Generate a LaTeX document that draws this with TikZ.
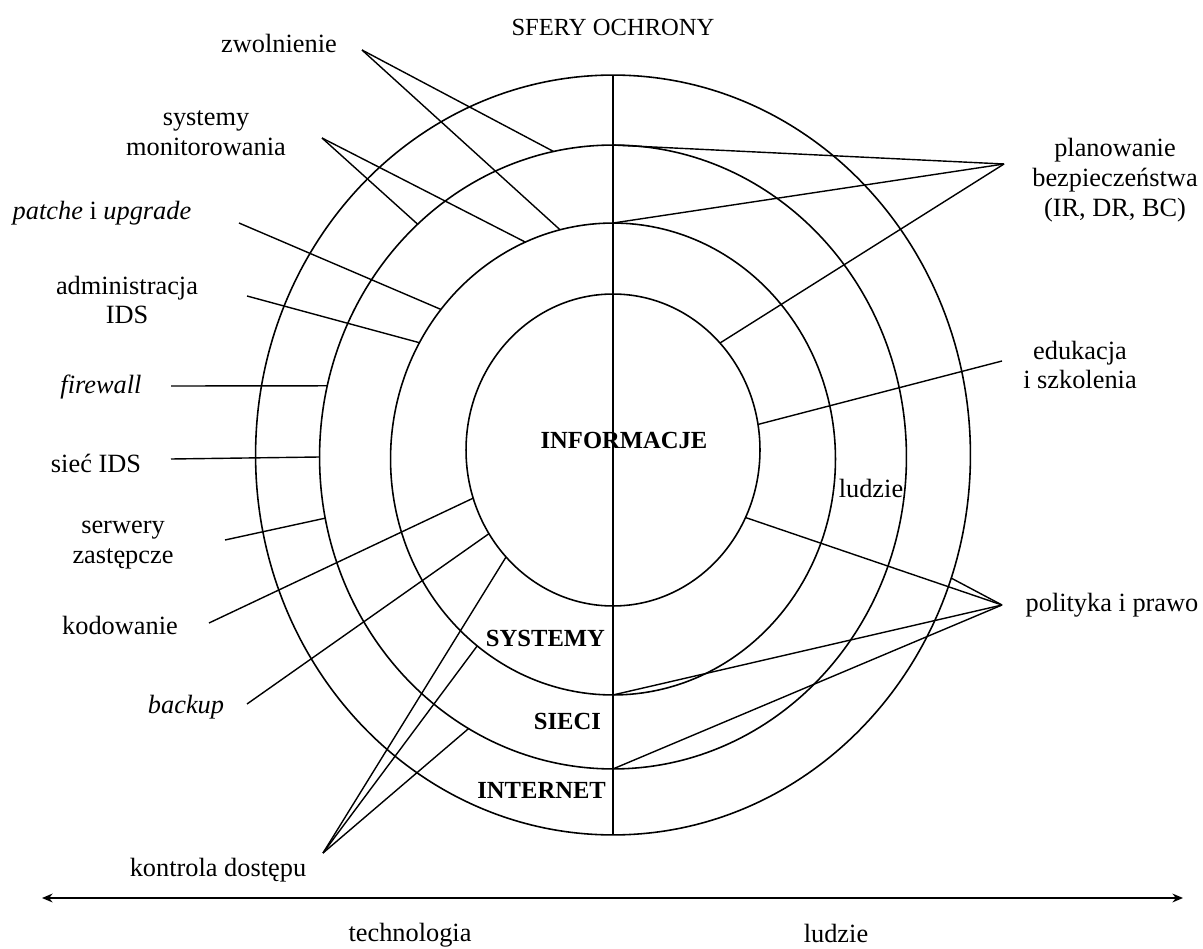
\documentclass[tikz,border=0pt]{standalone}
\usepackage{fontspec}
\setmainfont{Liberation Serif}
\usepackage{tikz}
\usetikzlibrary{shapes.geometric, arrows.meta, positioning}
\tikzset{
  ring/.style={ellipse, draw, line width=0.9pt, inner sep=0pt, outer sep=0pt},
  lbl/.style={font=\fontsize{15}{17}\selectfont, align=center, inner sep=1pt},
  zone/.style={font=\fontsize{14}{16}\selectfont\bfseries, inner sep=1pt},
  conn/.style={line width=0.8pt},
  axis/.style={{Stealth[length=6pt,width=5pt]}-{Stealth[length=6pt,width=5pt]}, line width=1pt}
}

\begin{document}
\begin{tikzpicture}[x=0.02cm, y=-0.02cm]
  \useasboundingbox (0,0) rectangle (1203,949);
  \node[ring, minimum width=14.3cm, minimum height=15.2cm] (rInternet) at (613,455) {};
  \node[ring, minimum width=11.74cm, minimum height=12.48cm] (rSieci) at (613,457) {};
  \node[ring, minimum width=8.9cm, minimum height=9.44cm] (rSystemy) at (613,459) {};
  \node[ring, minimum width=5.88cm, minimum height=6.24cm] (rInfo) at (613,450) {};
  \draw[line width=1.1pt] (rInternet.north) -- (rInternet.south);

  \node[lbl, font=\fontsize{14}{16}\selectfont] (sfery) at (613,27) {SFERY OCHRONY};
  \node[zone] (info) at (624,440) {INFORMACJE};
  \node[zone, anchor=east] (syst) at (607,638) {SYSTEMY};
  \node[zone, anchor=east] (sieci) at (603,721) {SIECI};
  \node[zone, anchor=east] (inet) at (608,790) {INTERNET};
  \node[lbl] (ludzieIn) at (871,488) {ludzie};

  \node[lbl] (zwol) at (279,43) {zwolnienie};
  \node[lbl] (monit) at (206,133) {systemy\\monitorowania};
  \node[lbl] (patche) at (102,213) {\textit{patche} i \textit{upgrade}};
  \node[lbl] (admin) at (127,300) {administracja\\IDS};
  \node[lbl] (fw) at (101,387) {\textit{firewall}};
  \node[lbl] (sids) at (96,463) {sieć IDS};
  \node[lbl] (serw) at (123,545) {serwery\\zastępcze};
  \node[lbl] (kod) at (120,625) {kodowanie};
  \node[lbl] (backup) at (186,707) {\textit{backup}};
  \node[lbl] (kontr) at (218,870) {kontrola dostępu};
  \node[lbl] (plan) at (1115,180) {planowanie\\bezpieczeństwa\\(IR, DR, BC)};
  \node[lbl] (eduk) at (1080,365) {edukacja\\i szkolenia};
  \node[lbl] (polit) at (1112,605) {polityka i prawo};
  \node[lbl] (techn) at (410,935) {technologia};
  \node[lbl] (ludzie) at (836,933) {ludzie};

  \coordinate (zwolT) at (362,50);
  \coordinate (monitT) at (322,138);
  \coordinate (patcheT) at (239,223);
  \coordinate (adminT) at (247,296);
  \coordinate (fwT) at (171,386);
  \coordinate (sidsT) at (171,459);
  \coordinate (serwT) at (225,540);
  \coordinate (kodT) at (209,623);
  \coordinate (backupT) at (247,704);
  \coordinate (kontrT) at (323,853);
  \coordinate (planT) at (1004,164);
  \coordinate (edukT) at (1002,361);
  \coordinate (politT) at (1002,605);
  \coordinate (axL) at (42,898);
  \coordinate (axR) at (1183,898);

  \draw[conn] (zwolT) -- (rSieci.101.4);
  \draw[conn] (zwolT) -- (rSystemy.103.7);
  \draw[conn] (monitT) -- (rSieci.130.9);
  \draw[conn] (monitT) -- (rSystemy.112.4);
  \draw[conn] (patcheT) -- (rSystemy.139.7);
  \draw[conn] (adminT) -- (rSystemy.149.6);
  \draw[conn] (fwT) -- (rSieci.166.8);
  \draw[conn] (sidsT) -- (rSieci.180);
  \draw[conn] (serwT) -- (rSieci.192.6);
  \draw[conn] (kodT) -- (rInfo.199.3);
  \draw[conn] (backupT) -- (rInfo.214);
  \draw[conn] (kontrT) -- (rInfo.225);
  \draw[conn] (kontrT) -- (rSystemy.234.3);
  \draw[conn] (kontrT) -- (rSieci.242.2);
  \draw[conn] (planT) -- (rSieci.north);
  \draw[conn] (planT) -- (rSystemy.north);
  \draw[conn] (planT) -- (rInfo.45.8);
  \draw[conn] (edukT) -- (rInfo.10.2);
  \draw[conn] (politT) -- (rInfo.333.3);
  \draw[conn] (politT) -- (rInternet.340.2);
  \draw[conn] (politT) -- (rSystemy.south);
  \draw[conn] (politT) -- (rSieci.south);
  \draw[axis] (axL) -- (axR);
\end{tikzpicture}
\end{document}
